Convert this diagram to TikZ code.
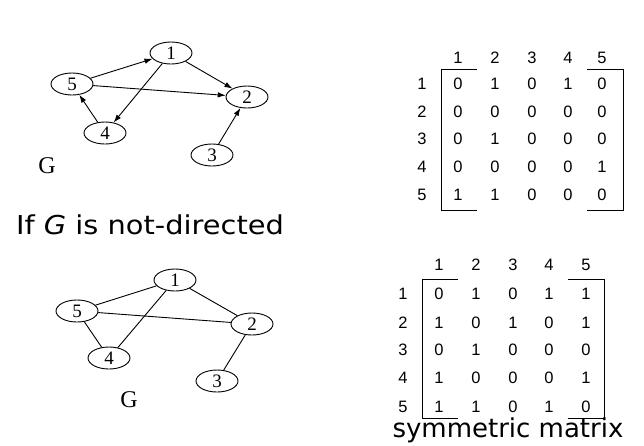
\documentclass[tikz,border=0pt]{standalone}
\usepackage{fontspec}
\usepackage{graphicx}
\setmainfont{Liberation Serif}
\newfontfamily\arialfont{Liberation Sans}
\newfontfamily\comicfont{DejaVu Sans}
\usetikzlibrary{shapes.geometric,arrows.meta}
\begin{document}
\begin{tikzpicture}[x=1pt,y=-1pt,
  vtx/.style={ellipse,draw,line width=0.9pt,minimum width=42pt,minimum height=22pt,inner sep=0pt,font=\fontsize{19}{19}\selectfont},
  arc/.style={line width=0.9pt,-{Latex[length=8pt,width=5.5pt]}},
  edge/.style={line width=0.9pt},
  glabel/.style={font=\fontsize{24}{24}\selectfont},
  mnum/.style={font=\arialfont\fontsize{16.5}{16.5}\selectfont,inner sep=0pt},
  brk/.style={line width=0.9pt},
  title/.style={font=\comicfont\fontsize{26}{26}\selectfont,inner sep=0pt}]
\useasboundingbox (0,0) rectangle (644,445);
% top directed graph
\node[vtx] (a1) at (171,53) {1};
\node[vtx] (a5) at (72,84) {5};
\node[vtx] (a2) at (247,97) {2};
\node[vtx] (a4) at (105,133) {4};
\node[vtx] (a3) at (212,155) {3};
\node[glabel] (ga) at (47,166) {G};
\draw[arc] (a5) -- (a1);
\draw[arc] (a1) -- (a2);
\draw[arc] (a5) -- (a2);
\draw[arc] (a1) -- (a4);
\draw[arc] (a4) -- (a5);
\draw[arc] (a3) -- (a2);
% title
\node[title] (t1) at (150,225) {\scalebox{1.11}[1]{If \textit{G} is not-directed}};
% bottom undirected graph
\node[vtx] (b1) at (175,280) {1};
\node[vtx] (b5) at (77,311) {5};
\node[vtx] (b2) at (252,324) {2};
\node[vtx] (b4) at (109,358) {4};
\node[vtx] (b3) at (217,381) {3};
\node[glabel] (gb) at (129,400) {G};
\draw[edge] (b5) -- (b1);
\draw[edge] (b1) -- (b2);
\draw[edge] (b5) -- (b2);
\draw[edge] (b1) -- (b4);
\draw[edge] (b5) -- (b4);
\draw[edge] (b2) -- (b3);
% top matrix
\foreach \c/\x in {1/458,2/495,3/532,4/568,5/602}
  \node[mnum] (ch\c) at (\x,58) {\c};
\foreach \r/\y in {1/84,2/112,3/139,4/167,5/195}
  \node[mnum] (rh\r) at (422,\y) {\r};
\foreach \row/\y/\vals in {1/84/{0,1,0,1,0},2/112/{0,0,0,0,0},3/139/{0,1,0,0,0},4/167/{0,0,0,0,1},5/195/{1,1,0,0,0}}{
  \foreach \v [count=\c] in \vals {
    \pgfmathsetmacro{\xx}{{458,495,532,568,602}[\c-1]}
    \node[mnum] (ma\row\c) at (\xx,\y) {\v};
  }
}
\coordinate (tl1) at (441,69); \coordinate (bl1) at (441,210);
\coordinate (tr1) at (623,69); \coordinate (br1) at (623,210);
\coordinate (tl1e) at (477,69); \coordinate (bl1e) at (477,210);
\coordinate (tr1e) at (587,69); \coordinate (br1e) at (587,210);
\draw[brk] (tl1e) -- (tl1) -- (bl1) -- (bl1e);
\draw[brk] (tr1e) -- (tr1) -- (br1) -- (br1e);
% bottom matrix
\foreach \c/\x in {1/439,2/476,3/513,4/549,5/586}
  \node[mnum] (dh\c) at (\x,265) {\c};
\foreach \r/\y in {1/294,2/323,3/350,4/378,5/407}
  \node[mnum] (sh\r) at (403,\y) {\r};
\foreach \row/\y/\vals in {1/294/{0,1,0,1,1},2/323/{1,0,1,0,1},3/350/{0,1,0,0,0},4/378/{1,0,0,0,1},5/407/{1,1,0,1,0}}{
  \foreach \v [count=\c] in \vals {
    \pgfmathsetmacro{\xx}{{439,476,513,549,586}[\c-1]}
    \node[mnum] (mb\row\c) at (\xx,\y) {\v};
  }
}
\coordinate (tl2) at (422,279); \coordinate (bl2) at (422,418);
\coordinate (tr2) at (604,279); \coordinate (br2) at (604,418);
\coordinate (tl2e) at (458,279); \coordinate (bl2e) at (458,418);
\coordinate (tr2e) at (568,279); \coordinate (br2e) at (568,418);
\draw[brk] (tl2e) -- (tl2) -- (bl2) -- (bl2e);
\draw[brk] (tr2e) -- (tr2) -- (br2) -- (br2e);
\node[title] (t2) at (508,430) {symmetric matrix};
\end{tikzpicture}
\end{document}
